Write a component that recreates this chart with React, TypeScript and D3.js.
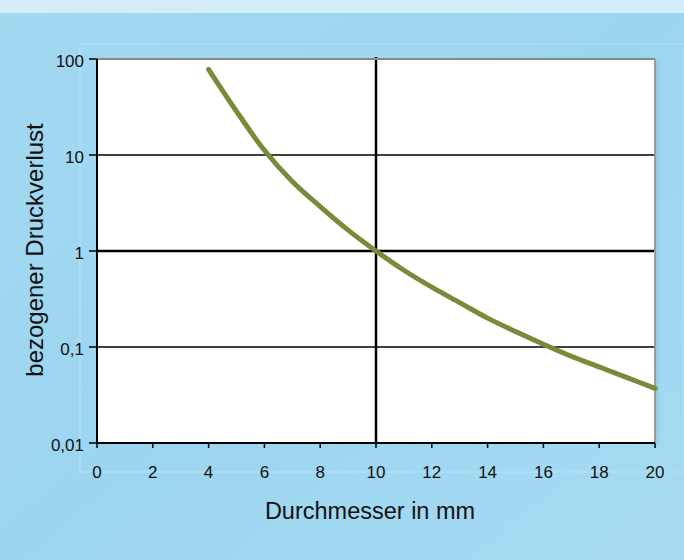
import React from "react";
import * as d3 from "d3";

const diameters = [4, 5, 6, 7, 8, 9, 10, 11, 12, 13, 14, 15, 16, 17, 18, 19, 20];
const relLoss = [78, 28.5, 11.2, 5.3, 2.9, 1.65, 1, 0.63, 0.42, 0.29, 0.2, 0.145, 0.107, 0.08, 0.062, 0.048, 0.037];
const xTicks = [0, 2, 4, 6, 8, 10, 12, 14, 16, 18, 20];
const yTicks = [0.01, 0.1, 1, 10, 100];
const yTickLabels = ["0,01", "0,1", "1", "10", "100"];
const xLabel = "Durchmesser in mm";
const yLabel = "bezogener Druckverlust";

export default function App() {
  const W = 684, H = 560;
  const left = 97, right = 655, top = 59, bottom = 443;
  const x = d3.scaleLinear().domain([0, 20]).range([left, right]);
  const y = d3.scaleLog().domain([0.01, 100]).range([bottom, top]);
  const line = d3.line<number>()
    .x((_, i) => x(diameters[i]))
    .y((v) => y(v))
    .curve(d3.curveCatmullRom.alpha(0.5));
  const font = "'Liberation Sans', Arial, sans-serif";
  return (
    <svg width={W} height={H} style={{ position: "absolute", left: 0, top: 0 }}>
      <defs>
        <linearGradient id="bg" x1="0" y1="0" x2="1" y2="1">
          <stop offset="0" stopColor="#a3d8f1" />
          <stop offset="0.5" stopColor="#9cd5f0" />
          <stop offset="1" stopColor="#a6daf2" />
        </linearGradient>
      </defs>
      <rect x={0} y={0} width={W} height={H} fill="url(#bg)" />
      <rect x={0} y={0} width={W} height={13} fill="#d4eef9" />
      <rect x={80} y={44} width={W - 80} height={428} fill="none" stroke="#b6e1f5" strokeWidth={1} />
      <rect x={left} y={top} width={right - left} height={bottom - top} fill="#ffffff" />
      <rect x={right + 1} y={top + 2} width={3} height={bottom - top} fill="#8fc4dc" opacity={0.6} />
      {yTicks.filter((t) => t > 0.01 && t < 100).map((t) => (
        <line key={t} x1={left} x2={right} y1={y(t)} y2={y(t)} stroke="#000" strokeWidth={t === 1 ? 2.5 : 1.5} />
      ))}
      <line x1={x(10)} x2={x(10)} y1={top - 2} y2={bottom} stroke="#000" strokeWidth={2.5} />
      <line x1={left} x2={right} y1={top} y2={top} stroke="#8a8a8a" strokeWidth={2} />
      <line x1={right} x2={right} y1={top} y2={bottom} stroke="#9a9a9a" strokeWidth={2} />
      <line x1={left} x2={left} y1={top} y2={bottom} stroke="#000" strokeWidth={2} />
      <line x1={left} x2={right} y1={bottom} y2={bottom} stroke="#000" strokeWidth={2} />
      {yTicks.map((t, i) => (
        <g key={t}>
          <line x1={left - 8} x2={left} y1={y(t)} y2={y(t)} stroke="#000" strokeWidth={1.5} />
          <text x={left - 13} y={y(t)} dy="0.45em" textAnchor="end" fontFamily={font} fontSize={17} fill="#111">
            {yTickLabels[i]}
          </text>
        </g>
      ))}
      {xTicks.map((t) => (
        <g key={t}>
          <line x1={x(t)} x2={x(t)} y1={bottom} y2={bottom + 5} stroke="#000" strokeWidth={1.5} />
          <text x={x(t)} y={478} textAnchor="middle" fontFamily={font} fontSize={17} fill="#111">
            {t}
          </text>
        </g>
      ))}
      <path d={line(relLoss) || ""} fill="none" stroke="#778b3b" strokeWidth={5} strokeLinecap="round" />
      <text x={370} y={519} textAnchor="middle" fontFamily={font} fontSize={23.5} fill="#111">
        {xLabel}
      </text>
      <text transform={`translate(43,250) rotate(-90)`} textAnchor="middle" fontFamily={font} fontSize={24} fill="#111">
        {yLabel}
      </text>
    </svg>
  );
}
